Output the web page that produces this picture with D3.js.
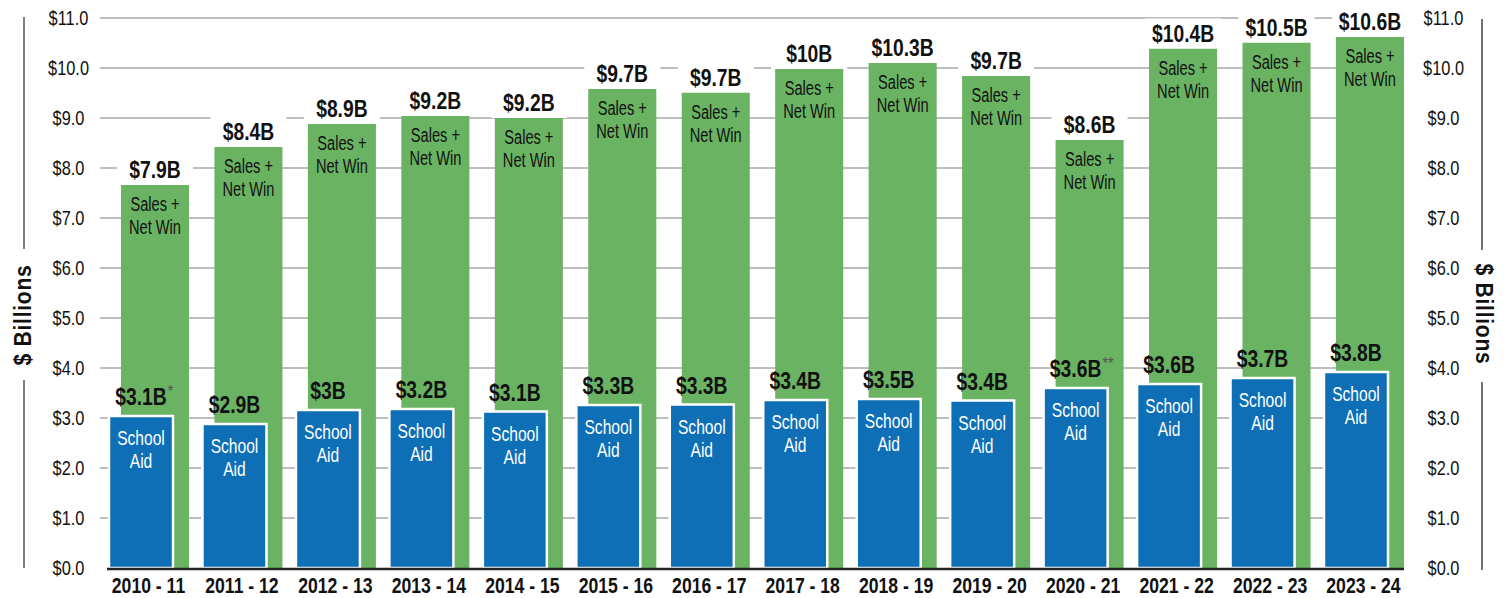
<!DOCTYPE html>
<html>
<head>
<meta charset="utf-8">
<script src="https://cdn.jsdelivr.net/npm/d3@7"></script>
<style>
  html, body { margin: 0; padding: 0; background: #fff; }
  svg { display: block; font-family: "Liberation Sans", Arial, sans-serif; }
</style>
</head>
<body>
<svg id="chart" width="1506" height="598"></svg>
<script>
// School years on the x axis
const years = ["2010 - 11", "2011 - 12", "2012 - 13", "2013 - 14", "2014 - 15", "2015 - 16", "2016 - 17",
               "2017 - 18", "2018 - 19", "2019 - 20", "2020 - 21", "2021 - 22", "2022 - 23", "2023 - 24"];

// Bar heights ($ billions)
const salesNetWin = [7.66, 8.42, 8.88, 9.04, 9.0, 9.58, 9.51, 9.98, 10.1, 9.84, 8.56, 10.39, 10.51, 10.62];
const schoolAid = [3.06, 2.9, 3.18, 3.2, 3.15, 3.28, 3.29, 3.38, 3.4, 3.37, 3.62, 3.7, 3.82, 3.94];

// Printed labels
const salesLabels = ["$7.9B", "$8.4B", "$8.9B", "$9.2B", "$9.2B", "$9.7B", "$9.7B", "$10B", "$10.3B", "$9.7B", "$8.6B", "$10.4B", "$10.5B", "$10.6B"];
const aidLabels = ["$3.1B", "$2.9B", "$3B", "$3.2B", "$3.1B", "$3.3B", "$3.3B", "$3.4B", "$3.5B", "$3.4B", "$3.6B", "$3.6B", "$3.7B", "$3.8B"];
const aidNotes = ["*", "", "", "", "", "", "", "", "", "", "**", "", "", ""];

const yTicks = [0, 1, 2, 3, 4, 5, 6, 7, 8, 9, 10, 11];

const data = years.map((y, i) => ({
    year: y,
    sales: salesNetWin[i],
    aid: schoolAid[i],
    salesLabel: salesLabels[i],
    aidLabel: aidLabels[i],
    note: aidNotes[i]
}));

const svg = d3.select("#chart");
const green = "#6ab363";
const blue = "#0e6fb6";

const x = d3.scaleBand()
    .domain(years)
    .range([108, 1404])
    .paddingInner(0.1333)
    .paddingOuter(0);

const y = d3.scaleLinear().domain([0, 11]).range([568, 18]);

const bw = x.bandwidth();
const blueW = bw * 0.815;
const greenW = bw * 0.84;
const greenX = d => x(d.year) + bw - greenW;
const blueX = d => x(d.year);

// narrow the text horizontally, the original uses a condensed face
function squeeze(sel, fx, fy, sx, extra) {
    sel.attr("transform", (d, i) => `translate(${fx(d, i)},${fy(d, i)}) ${extra || ""} scale(${sx},1)`);
}

// gridlines
svg.append("g")
    .selectAll("line")
    .data(yTicks.filter(t => t > 0))
    .enter()
    .append("line")
    .attr("x1", 100)
    .attr("x2", 1400)
    .attr("y1", d => y(d))
    .attr("y2", d => y(d))
    .attr("stroke", "#a8a8a8")
    .attr("stroke-width", 1.5);

// tick labels, left and right
[68.5, 1443.5].forEach(cx => {
    svg.append("g")
        .selectAll("text")
        .data(yTicks)
        .enter()
        .append("text")
        .call(squeeze, () => cx, d => y(d), 0.84)
        .attr("dy", "0.35em")
        .attr("text-anchor", "middle")
        .attr("font-size", 19.5)
        .attr("fill", "#111")
        .text(d => "$" + d.toFixed(1));
});

// side rules with "$ Billions" titles
svg.append("line").attr("x1", 24).attr("x2", 24).attr("y1", 17).attr("y2", 249)
    .attr("stroke", "#808080").attr("stroke-width", 2);
svg.append("line").attr("x1", 24).attr("x2", 24).attr("y1", 380).attr("y2", 568)
    .attr("stroke", "#808080").attr("stroke-width", 2);
svg.append("line").attr("x1", 1482).attr("x2", 1482).attr("y1", 19).attr("y2", 250)
    .attr("stroke", "#444").attr("stroke-width", 1.5);
svg.append("line").attr("x1", 1482).attr("x2", 1482).attr("y1", 382).attr("y2", 570)
    .attr("stroke", "#444").attr("stroke-width", 1.5);

svg.append("text")
    .attr("transform", "translate(23,315) rotate(-90) scale(0.88,1)")
    .attr("dy", "0.35em")
    .attr("text-anchor", "middle")
    .attr("font-size", 24)
    .attr("font-weight", "bold")
    .attr("letter-spacing", 0.8)
    .attr("fill", "#111")
    .text("$ Billions");
svg.append("text")
    .attr("transform", "translate(1484,314) rotate(90) scale(0.88,1)")
    .attr("dy", "0.35em")
    .attr("text-anchor", "middle")
    .attr("font-size", 24)
    .attr("font-weight", "bold")
    .attr("letter-spacing", 0.8)
    .attr("fill", "#111")
    .text("$ Billions");

const groups = svg.append("g")
    .selectAll("g")
    .data(data)
    .enter()
    .append("g");

// green bars (sales + net win)
groups.append("rect")
    .attr("x", greenX)
    .attr("y", d => y(d.sales))
    .attr("width", greenW)
    .attr("height", d => y(0) - y(d.sales))
    .attr("fill", green);

// white box behind total label
groups.append("rect")
    .attr("x", d => greenX(d) + greenW / 2 - 38)
    .attr("y", d => y(d.sales) - 30)
    .attr("width", 76)
    .attr("height", 30)
    .attr("fill", "#fff");

groups.append("text")
    .call(squeeze, d => greenX(d) + greenW / 2, d => y(d.sales) - 7, 0.84)
    .attr("text-anchor", "middle")
    .attr("font-size", 23)
    .attr("font-weight", "bold")
    .attr("fill", "#111")
    .text(d => d.salesLabel);

groups.append("text")
    .call(squeeze, d => greenX(d) + greenW / 2, d => y(d.sales) + 26, 0.75)
    .attr("text-anchor", "middle")
    .attr("font-size", 19.5)
    .attr("fill", "#111")
    .text("Sales +");
groups.append("text")
    .call(squeeze, d => greenX(d) + greenW / 2, d => y(d.sales) + 49, 0.75)
    .attr("text-anchor", "middle")
    .attr("font-size", 19.5)
    .attr("fill", "#111")
    .text("Net Win");

// blue bars (school aid)
groups.append("rect")
    .attr("x", d => blueX(d) + 1)
    .attr("y", d => y(d.aid) + 1)
    .attr("width", blueW - 2)
    .attr("height", d => y(0) - y(d.aid) - 1)
    .attr("fill", blue)
    .attr("stroke", "#fff")
    .attr("stroke-width", 2.5);

groups.append("text")
    .call(squeeze, d => blueX(d) + blueW / 2, d => y(d.aid) + 30, 0.78)
    .attr("text-anchor", "middle")
    .attr("font-size", 20)
    .attr("fill", "#fff")
    .text("School");
groups.append("text")
    .call(squeeze, d => blueX(d) + blueW / 2, d => y(d.aid) + 53, 0.78)
    .attr("text-anchor", "middle")
    .attr("font-size", 20)
    .attr("fill", "#fff")
    .text("Aid");

const aidText = groups.append("text")
    .call(squeeze, d => blueX(d) + blueW / 2, d => y(d.aid) - 10, 0.84)
    .attr("text-anchor", "middle")
    .attr("font-size", 23)
    .attr("font-weight", "bold")
    .attr("fill", "#111")
    .text(d => d.aidLabel);

// footnote marks after the school aid label
aidText.each(function (d) {
    if (!d.note) return;
    const w = this.getComputedTextLength() * 0.84;
    d3.select(this.parentNode).append("text")
        .attr("transform", `translate(${blueX(d) + blueW / 2 + w / 2 + 1},${y(d.aid) - 18}) scale(0.9,1)`)
        .attr("font-size", 16)
        .attr("fill", "#555")
        .text(d.note);
});

// baseline
svg.append("line")
    .attr("x1", 107)
    .attr("x2", 1404)
    .attr("y1", y(0) + 1)
    .attr("y2", y(0) + 1)
    .attr("stroke", "#222")
    .attr("stroke-width", 2.5);

// x axis labels
svg.append("g")
    .selectAll("text")
    .data(years)
    .enter()
    .append("text")
    .call(squeeze, d => x(d) + bw / 2, () => 585, 0.8)
    .attr("dy", "0.35em")
    .attr("text-anchor", "middle")
    .attr("font-size", 22)
    .attr("font-weight", "bold")
    .attr("fill", "#111")
    .text(d => d);
</script>
</body>
</html>
